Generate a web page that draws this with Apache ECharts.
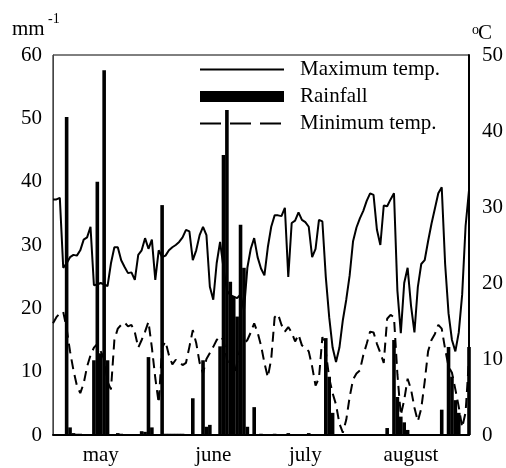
<!DOCTYPE html>
<html>
<head>
<meta charset="utf-8">
<script src="https://cdn.jsdelivr.net/npm/echarts@6/dist/echarts.min.js"></script>
<style>
  html, body { margin: 0; padding: 0; background: #fff; }
  #chart { width: 506px; height: 468px; }
</style>
</head>
<body>
<div id="chart"></div>
<script>
// daily values, 1 may .. 31 august
var maxTemp = [31,31,31.2,22,22.6,23.4,23.7,23.6,24.3,25.7,
  26,27.4,19.7,19.8,20,19.8,19.6,22.6,24.7,24.7,
  23,22.1,21.3,21.4,20.4,23.7,24.3,25.9,24.5,25.7,
  20.4,24.3,23.4,23.6,24.3,24.7,25,25.4,26,27,
  26.8,23,24.3,26.3,27.4,26.3,19.5,17.8,22.6,25.4,
  22,19,18.4,18.2,18,18.5,16.4,22,24.5,25.9,
  23.4,21.9,21,24.7,27.4,28.9,28.9,28.8,29.9,20.8,
  27.9,28.2,29.3,28.3,28,27.4,23.4,24.5,28.3,28.1,
  20.8,15.5,11.5,9.6,11.5,15.1,17.8,21,25.5,27.3,
  28.5,29.5,30.8,31.8,31.6,27,25,30.2,30.1,31,
  31.8,19,13.4,20,22,17,13.5,19.5,22.5,23,
  25.5,27.8,29.8,31.8,32.6,22.5,16,12.5,11,13.5,
  18.5,27.5,32.2];

var minTemp = [14.7,15.5,16,16.2,14,11,8.5,6.5,5.5,6.8,
  9,10.5,11.5,12,11,10,7,6,12.5,14,
  14.5,14.8,14.3,14.5,13.5,11.5,12.5,13.6,14.9,11.5,
  7.5,4.2,11.5,12.3,10.5,9.3,9.9,9.6,9.2,9.5,
  11.6,13.8,12.1,9.5,8.1,10,10.8,11.6,12.5,13,
  12.5,10,8.5,7.6,9.5,11.6,12,12.5,13.5,14.7,
  13.5,11.8,9.5,7.6,10,15.5,15.9,14.5,13.6,14.2,
  13.5,12.3,13.2,11.8,11.5,11,9,6.5,7.5,12.9,
  11,7.5,5.5,4,1.5,0.3,2,5,7.3,8.1,
  8.5,10.5,12,13.6,13.5,12,10.8,9.5,15.3,15.8,
  15.5,8,2.6,4.6,7.4,6,3.6,1.8,3.5,7,
  11,12.5,13.3,14.5,14,11.3,9,8.2,6,3.7,
  1,3,10];

var rainfall = [0,0,0,0,50.2,1.2,0.3,0.2,0.2,0,
  0,0,11.8,40,12.9,57.6,11.8,0,0,0.3,
  0.2,0,0,0,0,0,0.6,0.5,12.3,1.2,
  0,0,36.3,0.2,0.2,0.2,0.2,0.2,0.2,0,
  0,5.8,0,0,11.8,1.3,1.6,0,0,14,
  44.2,51.3,24.2,21.8,18.7,33.2,26.4,1.3,0,4.4,
  0,0.2,0,0,0,0.2,0,0,0,0.3,
  0,0,0,0,0,0.3,0,0,0,0,
  15.3,9.2,3.5,0,0,0,0,0,0,0,
  0,0,0,0,0,0,0,0,1.1,0,
  15,6,2.9,2,0.8,0,0,0,0,0,
  0,0,0,0,4,0,13.9,9.2,5.5,3.5,
  0,0,13.9];

var monthNames = ['may', 'june', 'july', 'august'];
var monthLabelIdx = [14, 47, 74, 105];

var days = [];
for (var i = 0; i < maxTemp.length; i++) days.push('d' + i);

var font = "'Liberation Serif', 'Times New Roman', serif";

var option = {
    animation: false,
    textStyle: { fontFamily: font, color: '#000' },
    grid: {
        left: 53, right: 37, top: 55, bottom: 33,
        show: true, borderColor: '#000', borderWidth: 1
    },
    legend: {
        orient: 'vertical',
        left: 194,
        top: 54,
        itemWidth: 84,
        itemHeight: 11,
        itemGap: 6,
        textStyle: { fontFamily: font, fontSize: 21, color: '#000', padding: [0, 0, 0, 11] },
        data: [
            { name: 'Maximum temp.', itemStyle: { opacity: 0 } },
            { name: 'Rainfall', icon: 'rect' },
            { name: 'Minimum temp.', itemStyle: { opacity: 0 }, lineStyle: { type: [21, 9] } }
        ]
    },
    graphic: [
        { type: 'text', left: 12, top: 19, style: { text: 'mm', font: '21px ' + font, fill: '#000' } },
        { type: 'text', left: 48, top: 12, style: { text: '-1', font: '14px ' + font, fill: '#000' } },
        { type: 'text', left: 472, top: 23, style: { text: 'o', font: '14px ' + font, fill: '#000' } },
        { type: 'text', left: 478, top: 23, style: { text: 'C', font: '21px ' + font, fill: '#000' } }
    ],
    xAxis: {
        type: 'category',
        boundaryGap: false,
        data: days,
        axisLine: { lineStyle: { color: '#000', width: 2 } },
        axisTick: { show: false },
        axisLabel: {
            interval: function (idx) { return monthLabelIdx.indexOf(idx) >= 0; },
            formatter: function (v, idx) {
                var k = monthLabelIdx.indexOf(idx);
                return k >= 0 ? monthNames[k] : '';
            },
            margin: 10,
            fontSize: 21,
            fontFamily: font,
            color: '#000'
        },
        splitLine: { show: false }
    },
    yAxis: [{
        type: 'value',
        min: 0, max: 60, interval: 10,
        axisLine: { show: true, lineStyle: { color: '#444', width: 1 } },
        axisTick: { show: false },
        axisLabel: { margin: 11, fontSize: 21, fontFamily: font, color: '#000' },
        splitLine: { show: false }
    }, {
        type: 'value',
        min: 0, max: 50, interval: 10,
        position: 'right',
        axisLine: { show: true, lineStyle: { color: '#000', width: 2 } },
        axisTick: { show: false },
        axisLabel: { margin: 13, fontSize: 21, fontFamily: font, color: '#000' },
        splitLine: { show: false }
    }],
    series: [{
        name: 'Maximum temp.',
        type: 'line',
        yAxisIndex: 1,
        symbol: 'none',
        lineStyle: { color: '#000', width: 2 },
        itemStyle: { color: '#000' },
        data: maxTemp
    }, {
        name: 'Minimum temp.',
        type: 'line',
        yAxisIndex: 1,
        symbol: 'none',
        lineStyle: { color: '#000', width: 2, type: [10, 6] },
        itemStyle: { color: '#000' },
        data: minTemp
    }, {
        name: 'Rainfall',
        type: 'bar',
        yAxisIndex: 0,
        barWidth: 3.6,
        itemStyle: { color: '#000' },
        data: rainfall
    }]
};

var chart = echarts.init(document.getElementById('chart'));
chart.setOption(option);
</script>
</body>
</html>
